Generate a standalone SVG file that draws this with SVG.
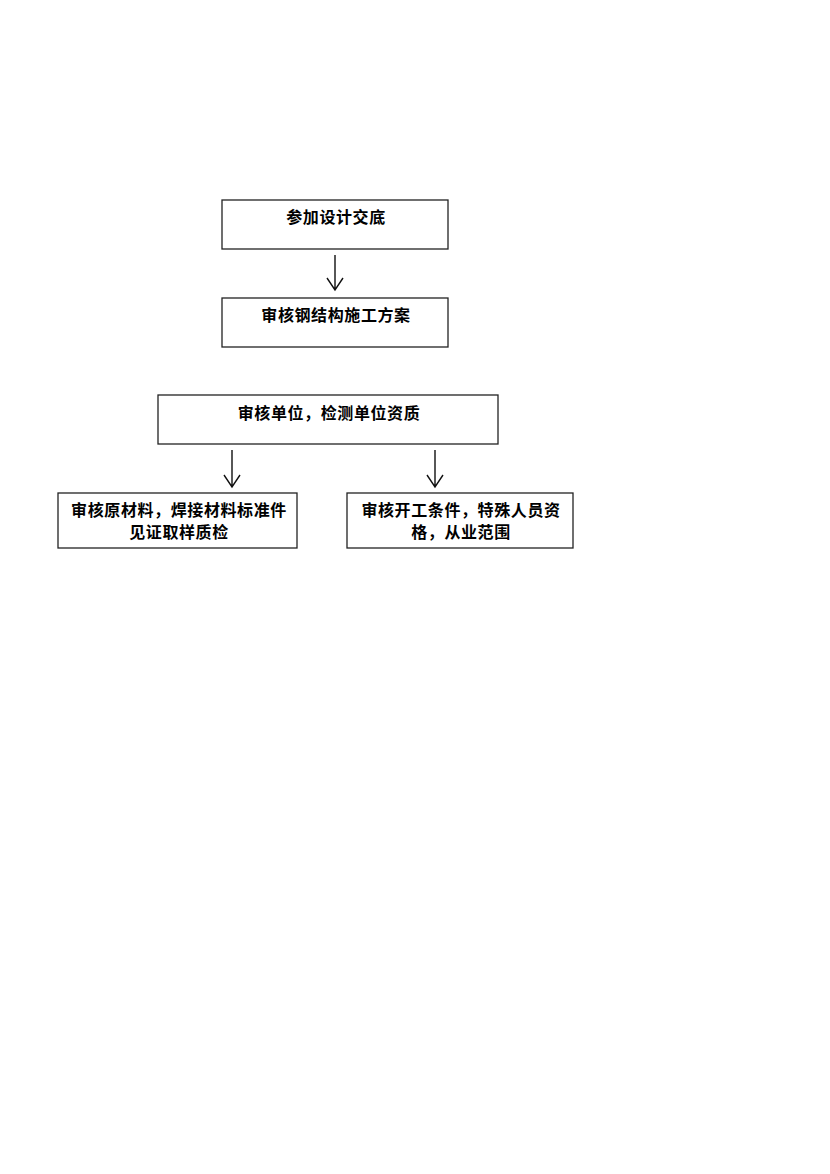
<svg xmlns="http://www.w3.org/2000/svg" width="830" height="1174" viewBox="0 0 830 1174">
<style>
.box{fill:#fff;stroke:#222;stroke-width:1.3}
.t{font-family:"Liberation Sans","Noto Sans CJK SC",sans-serif;font-size:16px;font-weight:bold;fill:#000;text-anchor:middle;letter-spacing:0.6px}
.c{fill:none;stroke:#111;stroke-width:1.4}
</style>
<rect width="830" height="1174" fill="#fff"/>
<g id="n1"><rect class="box" x="222" y="200" width="226" height="49"/><text class="t" x="336" y="223">参加设计交底</text></g>
<g id="n2"><rect class="box" x="222" y="298" width="226" height="49"/><text class="t" x="336" y="321">审核钢结构施工方案</text></g>
<g id="n3"><rect class="box" x="158" y="395" width="340" height="49"/><text class="t" x="329" y="419">审核单位，检测单位资质</text></g>
<g id="n4"><rect class="box" x="58" y="493" width="239" height="55"/><text class="t" x="179" y="516">审核原材料，焊接材料标准件</text><text class="t" x="179" y="538">见证取样质检</text></g>
<g id="n5"><rect class="box" x="347" y="493" width="226" height="55"/><text class="t" x="461" y="516">审核开工条件，特殊人员资</text><text class="t" x="461" y="538">格，从业范围</text></g>
<g id="connectors">
<path class="c" d="M335 255V290M327 278L335 290L343 278"/>
<path class="c" d="M232 450V487M224 475L232 487L240 475"/>
<path class="c" d="M435 450V487M427 475L435 487L443 475"/>
</g>
</svg>
